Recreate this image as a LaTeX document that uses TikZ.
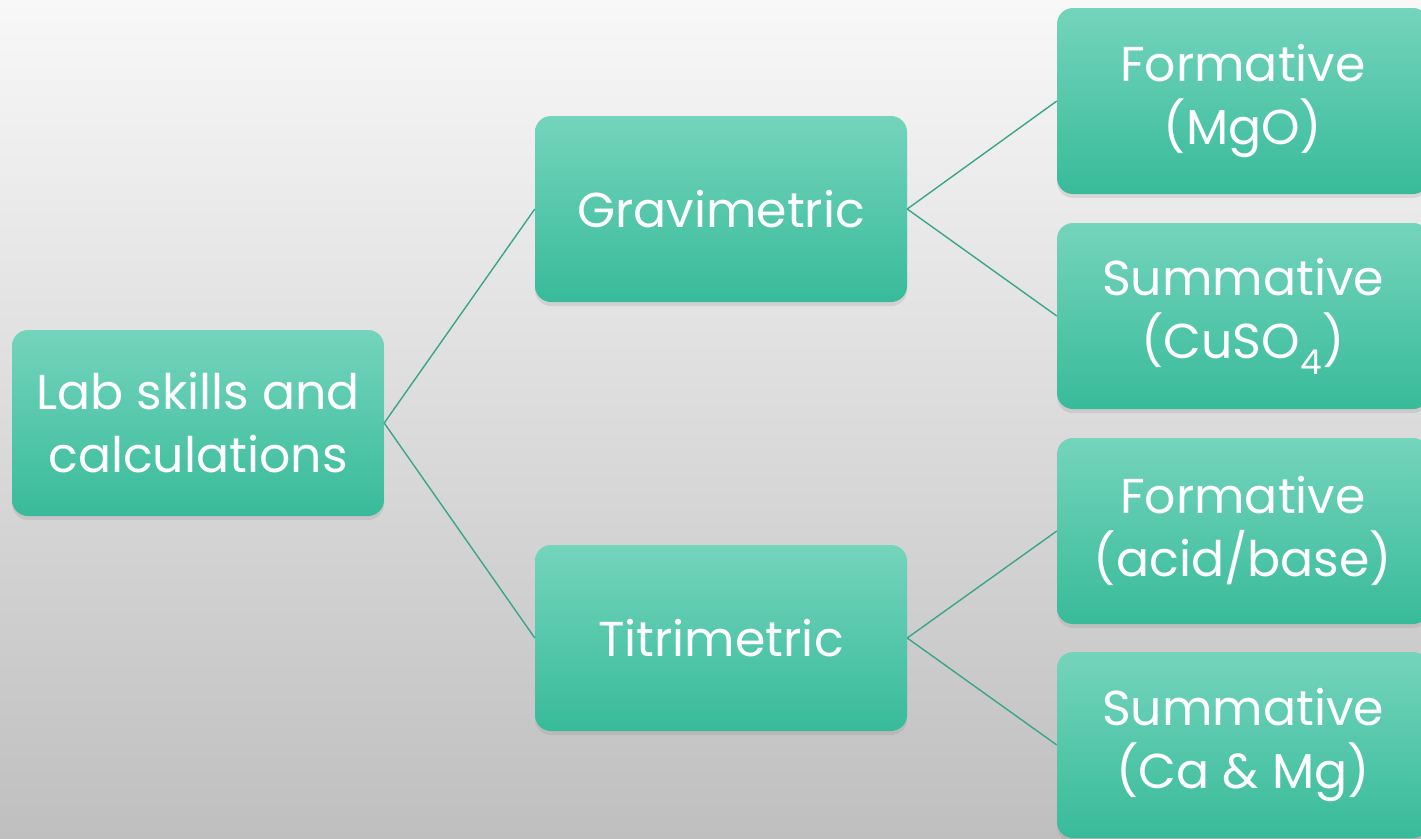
\documentclass[tikz,border=0pt]{standalone}
\usepackage{fontspec}
\setmainfont{Poppins}
\usetikzlibrary{shadows}
\definecolor{bgtop}{HTML}{F8F8F8}
\definecolor{bgbot}{HTML}{BFBFBF}
\definecolor{boxtop}{HTML}{74D4BC}
\definecolor{boxbot}{HTML}{38BB9A}
\definecolor{linkc}{HTML}{3AA58A}
\tikzset{
  box/.style={rectangle, rounded corners=16pt, minimum width=372pt, minimum height=186pt,
    top color=boxtop, bottom color=boxbot, draw=none, text=white, align=center,
    inner sep=0pt,
    font=\fontsize{49}{63}\selectfont,
    drop shadow={opacity=0.18, shadow xshift=0pt, shadow yshift=-4pt}},
  link/.style={draw=linkc, line width=1.4pt}
}
\begin{document}
\begin{tikzpicture}[x=1pt,y=-1pt]
\useasboundingbox (0,0) rectangle (1421,838);
\shade[top color=bgtop, bottom color=bgbot] (0,0) rectangle (1421,838);
\clip (0,0) rectangle (1421,838);
\node[box] (root) at (198,423) {Lab skills and\\calculations};
\node[box] (grav) at (721,209) {Gravimetric};
\node[box] (titr) at (721,638) {Titrimetric};
\node[box] (f1) at (1243,101) {Formative\\(MgO)};
\node[box] (s1) at (1243,316) {Summative\\(CuSO\textsubscript{4})};
\node[box] (f2) at (1243,531) {Formative\\(acid/base)};
\node[box] (s2) at (1243,745) {Summative\\(Ca \& Mg)};
\draw[link] (root.east) -- (grav.west);
\draw[link] (root.east) -- (titr.west);
\draw[link] (grav.east) -- (f1.west);
\draw[link] (grav.east) -- (s1.west);
\draw[link] (titr.east) -- (f2.west);
\draw[link] (titr.east) -- (s2.west);
\end{tikzpicture}
\end{document}
